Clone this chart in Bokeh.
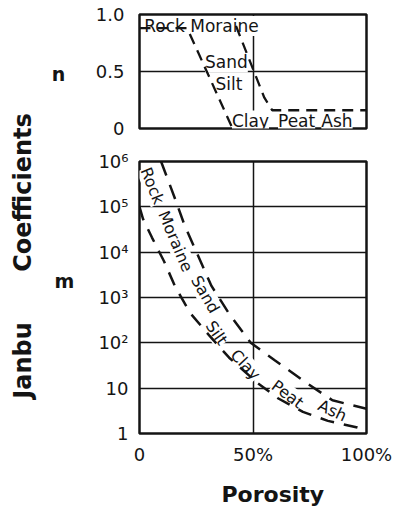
import math
from bokeh.plotting import figure
from bokeh.layouts import row, column
from bokeh.models import Range1d, FixedTicker
from bokeh.core.properties import value
from bokeh.embed import file_html
from bokeh.resources import INLINE

FONT = "DejaVu Sans"
INK = "#141414"

# ---------------- data ----------------
# n panel (exponent n vs porosity %)
n_lo_x = [0, 21, 41]
n_lo = [0.88, 0.88, 0.0]
n_hi_x = [42.5, 55, 58.5, 100]
n_hi = [0.9, 0.27, 0.16, 0.16]

# m panel (modulus number m vs porosity %), log scale
m_hi_x = [9.5, 15.9, 19.8, 25.1, 31.7, 39.6, 49, 59.4, 74, 85, 100]
m_hi = [1e6, 1.4e5, 4e4, 1e4, 1800, 430, 100, 42, 12.6, 5.4, 3.5]
m_lo_x = [0, 1.5, 5.5, 10.8, 15.9, 22.4, 31, 39.5, 52, 61, 72, 83, 96, 100]
m_lo = [1e5, 5.5e4, 2.1e4, 6300, 1660, 450, 140, 47, 13, 6, 3, 1.9, 1.35, 1.15]

n_ticks = [0, 0.5, 1]
n_tick_labels = ["0", "0.5", "1.0"]
m_ticks = [1, 10, 100, 1000, 10000, 100000, 1000000]
m_tick_labels = ["1", "10", "10²", "10³", "10⁴", "10⁵", "10⁶"]
x_ticks = [0, 50, 100]
x_tick_labels = ["0", "50%", "100%"]

top_labels = ["Rock Moraine", "Sand", "Silt", "Clay", "Peat", "Ash"]
top_label_x = [27.3, 38.3, 39.4, 48.9, 69.2, 87]
top_label_n = [0.9, 0.58, 0.39, 0.07, 0.07, 0.07]

bot_labels = ["Rock", "Moraine", "Sand", "Silt", "Clay", "Peat", "Ash"]
bot_label_x = [5.7, 15.9, 29, 34, 46.7, 65.2, 85]
bot_label_m = [2.9e5, 1.74e4, 1170, 165, 33, 7.4, 3.2]
bot_label_angle = [-68, -67, -60, -55, -47, -37, -25]

H = 508


def style_frame(p):
    p.outline_line_color = INK
    p.outline_line_width = 2.5
    p.outline_line_alpha = 1.0
    p.background_fill_color = "white"
    p.border_fill_color = "white"
    for g in p.grid:
        g.grid_line_color = INK
        g.grid_line_width = 1.5
        g.grid_line_alpha = 1.0


def style_axis(ax, standoff):
    ax.axis_line_color = None
    ax.major_tick_line_color = None
    ax.minor_tick_line_color = None
    ax.major_tick_out = 0
    ax.major_tick_in = 0
    ax.minor_tick_out = 0
    ax.major_label_text_font = FONT
    ax.major_label_text_font_size = "18px"
    ax.major_label_text_color = INK
    ax.major_label_standoff = standoff


def blank(width, height):
    f = figure(width=width, height=height, x_range=Range1d(0, width), y_range=Range1d(0, height),
               min_border=0, toolbar_location=None, output_backend="svg",
               x_axis_location=None, y_axis_location=None)
    f.outline_line_color = None
    f.grid.visible = False
    return f


# ---------------- left label strip ----------------
lab = blank(88, H)
lab.text(x=[22, 22], y=[H - 360, H - 192], text=["Janbu", "Coefficients"], angle=math.pi / 2,
         text_align="center", text_baseline="middle", text_font=value(FONT),
         text_font_size="24px", text_font_style="bold", text_color=INK)
lab.text(x=[58, 64], y=[H - 73, H - 280], text=["n", "m"], text_align="center",
         text_baseline="middle", text_font=value(FONT), text_font_size="19px",
         text_font_style="bold", text_color=INK)

# ---------------- top panel: n ----------------
top = figure(width=309, height=148, x_range=Range1d(0, 100), y_range=Range1d(0, 1),
             min_border_left=51, min_border_right=31, min_border_top=14, min_border_bottom=20,
             toolbar_location=None, output_backend="svg", x_axis_location=None)
top.xgrid.ticker = FixedTicker(ticks=[50])
top.ygrid.ticker = FixedTicker(ticks=[0.5])
style_frame(top)
style_axis(top.yaxis[0], 15)
top.yaxis.ticker = FixedTicker(ticks=n_ticks)
top.yaxis.major_label_overrides = dict(zip(n_ticks, n_tick_labels))

top.text(x=top_label_x, y=top_label_n, text=top_labels, text_align="center",
         text_baseline="middle", text_font=value(FONT), text_font_size="17px",
         text_color=INK, background_fill_color="white")
top.line(n_lo_x, n_lo, line_color=INK, line_width=2.3, line_dash="11 7")
top.line(n_hi_x, n_hi, line_color=INK, line_width=2.3, line_dash="11 7")

# ---------------- bottom panel: m ----------------
bot = figure(width=309, height=319, x_range=Range1d(0, 100), y_range=Range1d(1, 1e6),
             y_axis_type="log",
             min_border_left=51, min_border_right=31, min_border_top=13, min_border_bottom=30,
             toolbar_location=None, output_backend="svg")
bot.xgrid.ticker = FixedTicker(ticks=[50])
bot.ygrid.ticker = FixedTicker(ticks=m_ticks[1:-1])
style_frame(bot)
style_axis(bot.yaxis[0], 11)
style_axis(bot.xaxis[0], 10)
bot.yaxis.ticker = FixedTicker(ticks=m_ticks)
bot.yaxis.major_label_overrides = dict(zip(m_ticks, m_tick_labels))
bot.xaxis.ticker = FixedTicker(ticks=x_ticks)
bot.xaxis.major_label_overrides = dict(zip(x_ticks, x_tick_labels))

bot.text(x=bot_label_x, y=bot_label_m, text=bot_labels, angle=bot_label_angle,
         angle_units="deg", text_align="center", text_baseline="middle",
         text_font=value(FONT), text_font_size="16px", text_color=INK,
         background_fill_color="white")
bot.line(m_hi_x, m_hi, line_color=INK, line_width=2.5, line_dash="15 10")
bot.line(m_lo_x, m_lo, line_color=INK, line_width=2.5, line_dash="14 10")

# ---------------- x title strip ----------------
foot_h = H - 148 - 319
foot = blank(309, foot_h)
foot.text(x=[269.5 - 88], y=[H - 494], text=["Porosity"], text_align="center",
          text_baseline="middle", text_font=value(FONT), text_font_size="22px",
          text_font_style="bold", text_color=INK)

layout = row(lab, column(top, bot, foot))
open("out.html", "w").write(file_html(layout, INLINE))
